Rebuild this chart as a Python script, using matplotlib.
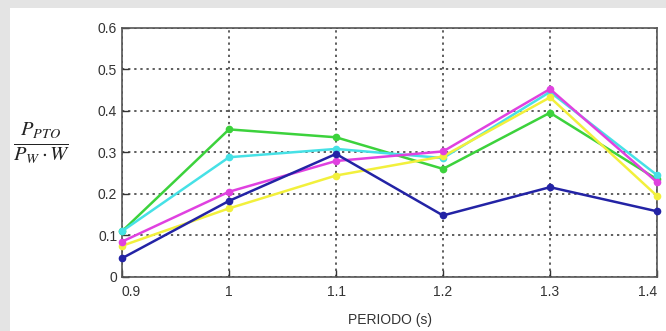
import matplotlib
matplotlib.use("Agg")
from matplotlib import pyplot as plt
from matplotlib.patches import Rectangle

periodo = [0.9, 1.0, 1.1, 1.2, 1.3, 1.4]
azul = [0.045, 0.183, 0.296, 0.148, 0.216, 0.158]
magenta = [0.085, 0.205, 0.279, 0.302, 0.452, 0.228]
amarillo = [0.075, 0.165, 0.244, 0.290, 0.432, 0.195]
cian = [0.110, 0.288, 0.308, 0.286, 0.445, 0.245]
verde = [0.110, 0.355, 0.336, 0.260, 0.395, 0.235]

plt.rcParams['font.family'] = ['Liberation Sans', 'DejaVu Sans']
plt.rcParams['mathtext.fontset'] = 'stix'

fig = plt.figure(figsize=(6.66, 3.31), dpi=100)
fig.patch.set_facecolor('#e4e4e4')
# white panel behind the chart
fig.patches.append(Rectangle((10 / 666, 0), 1, 1 - 8 / 331, transform=fig.transFigure,
                             facecolor='white', edgecolor='none', zorder=-5))

ax = fig.add_axes([122 / 666, 1 - 277 / 331, (657 - 122) / 666, (277 - 27.5) / 331])
ax.set_facecolor('white')

series = [
    (verde, '#3cd23c'),
    (cian, '#46e1e6'),
    (amarillo, '#f2f03c'),
    (magenta, '#e041e0'),
    (azul, '#2323a5'),
]
for vals, col in series:
    ax.plot(periodo, vals, color=col, lw=1.8, marker='o', ms=4.5, mfc=col, mec=col,
            zorder=3, clip_on=False)

ax.set_xlim(0.9, 1.4)
ax.set_ylim(0, 0.6)
ax.set_xticks(periodo)
ax.set_xticklabels(['0.9', '1', '1.1', '1.2', '1.3', '1.4'])
ax.set_yticks([0, 0.1, 0.2, 0.3, 0.4, 0.5, 0.6])
ax.set_yticklabels(['0', '0.1', '0.2', '0.3', '0.4', '0.5', '0.6'])
ax.tick_params(direction='in', length=5, width=1, colors='#333333', labelsize=10,
               top=False, right=False)
ax.tick_params(axis='x', pad=6)
ax.grid(True, color='#333333', linestyle=(0, (1.5, 2.5)), linewidth=1.1)
for s in ax.spines.values():
    s.set_color('#555555')
    s.set_linewidth(1.2)
ax.get_xticklabels()[0].set_horizontalalignment('left')
ax.get_xticklabels()[-1].set_horizontalalignment('right')

ax.set_xlabel('PERIODO (s)', fontsize=10, color='#333333', labelpad=10)
fig.text(42 / 666, 1 - 143 / 331, r'$\frac{P_{PTO}}{P_W \cdot W}$', fontsize=21,
         ha='center', va='center', color='#222222')

fig.savefig('out.png', dpi=100, facecolor=fig.get_facecolor())
